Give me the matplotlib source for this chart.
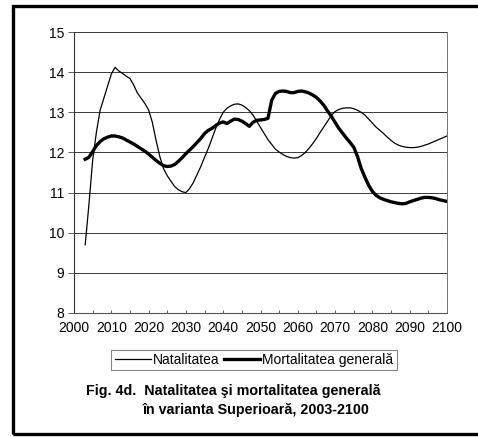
import matplotlib
matplotlib.use('Agg')
import matplotlib.pyplot as plt
from matplotlib.patches import Rectangle

plt.rcParams['font.family'] = ['Liberation Sans', 'DejaVu Sans']

# ---------------------------------------------------------------------------
# Data
# ---------------------------------------------------------------------------
years = list(range(2003, 2101))

natalitatea = [
    9.70, 10.70, 11.80, 12.50, 13.05, 13.35, 13.65, 13.95, 14.12, 14.03,   # 2003-2012
    13.97, 13.90, 13.84, 13.68, 13.48, 13.35, 13.22, 13.06, 12.75, 12.30,  # 2013-2022
    11.90, 11.60, 11.42, 11.28, 11.15, 11.07, 11.02, 11.00, 11.10, 11.25,  # 2023-2032
    11.45, 11.65, 11.88, 12.10, 12.35, 12.60, 12.82, 13.00, 13.10, 13.16,  # 2033-2042
    13.20, 13.21, 13.18, 13.12, 13.04, 12.93, 12.78, 12.62, 12.47, 12.32,  # 2043-2052
    12.20, 12.08, 12.01, 11.95, 11.90, 11.87, 11.86, 11.87, 11.92, 12.00,  # 2053-2062
    12.10, 12.22, 12.35, 12.50, 12.64, 12.78, 12.92, 13.02, 13.07, 13.10,  # 2063-2072
    13.11, 13.11, 13.09, 13.05, 13.00, 12.93, 12.83, 12.73, 12.63, 12.55,  # 2073-2082
    12.47, 12.38, 12.30, 12.23, 12.18, 12.15, 12.13, 12.12, 12.12, 12.13,  # 2083-2092
    12.15, 12.18, 12.21, 12.25, 12.29, 12.33, 12.37, 12.41,                # 2093-2100
]

mortalitatea = [
    11.83, 11.88, 12.02, 12.17, 12.27, 12.34, 12.38, 12.41, 12.41, 12.39,  # 2003-2012
    12.36, 12.31, 12.26, 12.21, 12.15, 12.09, 12.03, 11.96, 11.88, 11.80,  # 2013-2022
    11.73, 11.67, 11.65, 11.66, 11.70, 11.78, 11.87, 11.97, 12.06, 12.15,  # 2023-2032
    12.25, 12.35, 12.47, 12.55, 12.60, 12.67, 12.73, 12.76, 12.72, 12.78,  # 2033-2042
    12.83, 12.82, 12.78, 12.72, 12.65, 12.75, 12.80, 12.81, 12.82, 12.85,  # 2043-2052
    13.30, 13.47, 13.52, 13.53, 13.52, 13.49, 13.49, 13.52, 13.53, 13.51,  # 2053-2062
    13.48, 13.43, 13.37, 13.28, 13.17, 13.03, 12.90, 12.75, 12.60, 12.48,  # 2063-2072
    12.36, 12.25, 12.13, 11.90, 11.60, 11.38, 11.18, 11.03, 10.93, 10.87,  # 2073-2082
    10.83, 10.80, 10.77, 10.75, 10.73, 10.72, 10.73, 10.77, 10.80, 10.83,  # 2083-2092
    10.86, 10.88, 10.88, 10.87, 10.85, 10.82, 10.80, 10.78,                # 2093-2100
]

x_ticks = list(range(2000, 2101, 10))
y_ticks = list(range(8, 16))

caption_1 = 'Fig. 4d.  Natalitatea şi mortalitatea generală'
caption_2 = 'în varianta Superioară, 2003-2100'

# ---------------------------------------------------------------------------
# Figure
# ---------------------------------------------------------------------------
W, H = 478, 437
fig = plt.figure(figsize=(W / 100, H / 100), dpi=100)
fig.patch.set_facecolor('white')

# outer frame of the scanned figure
fig.patches.append(Rectangle((13 / W, 1 - 434 / H), 1.2, (434 - 6) / H,
                             transform=fig.transFigure, fill=False,
                             edgecolor='black', linewidth=2.4, zorder=0))

ax = fig.add_axes([74 / W, 1 - 313 / H, (447 - 74) / W, (313 - 32) / H])

ax.plot(years, natalitatea, color='black', lw=0.9, label='Natalitatea')
ax.plot(years, mortalitatea, color='black', lw=2.4, label='Mortalitatea generală')

ax.set_xlim(2000, 2100)
ax.set_ylim(8, 15)
ax.set_xticks(x_ticks)
ax.set_xticks(range(2000, 2101, 5), minor=True)
ax.set_yticks(y_ticks)
ax.tick_params(axis='x', which='both', direction='in', length=2.5, width=0.6,
               color='#444444', labelsize=10, pad=6)
ax.tick_params(axis='y', direction='out', length=4, width=0.6,
               color='#444444', labelsize=10, pad=3)

for y in y_ticks[1:]:
    ax.axhline(y, color='#3a3a3a', lw=0.7, zorder=0)

ax.spines['top'].set_visible(False)
ax.spines['left'].set_color('#333333')
ax.spines['left'].set_linewidth(0.8)
ax.spines['bottom'].set_color('#555555')
ax.spines['bottom'].set_linewidth(0.8)
ax.spines['right'].set_color('#777777')
ax.spines['right'].set_linewidth(0.7)
ax.spines['right'].set_linestyle((0, (1, 0.6)))

leg = fig.legend(loc='center', bbox_to_anchor=(254 / W, 1 - 360 / H), ncol=2,
                 fontsize=10, frameon=True, fancybox=False, edgecolor='#666666',
                 handlelength=2.6, handletextpad=0.15, columnspacing=0.3,
                 borderpad=0.25, borderaxespad=0)
leg.get_frame().set_linewidth(0.8)

fig.text(233 / W, 1 - 391 / H, caption_1, ha='center', va='center',
         fontsize=10.3, fontweight='bold')
fig.text(256 / W, 1 - 410 / H, caption_2, ha='center', va='center',
         fontsize=10.3, fontweight='bold')

fig.savefig('out.png', dpi=100)
